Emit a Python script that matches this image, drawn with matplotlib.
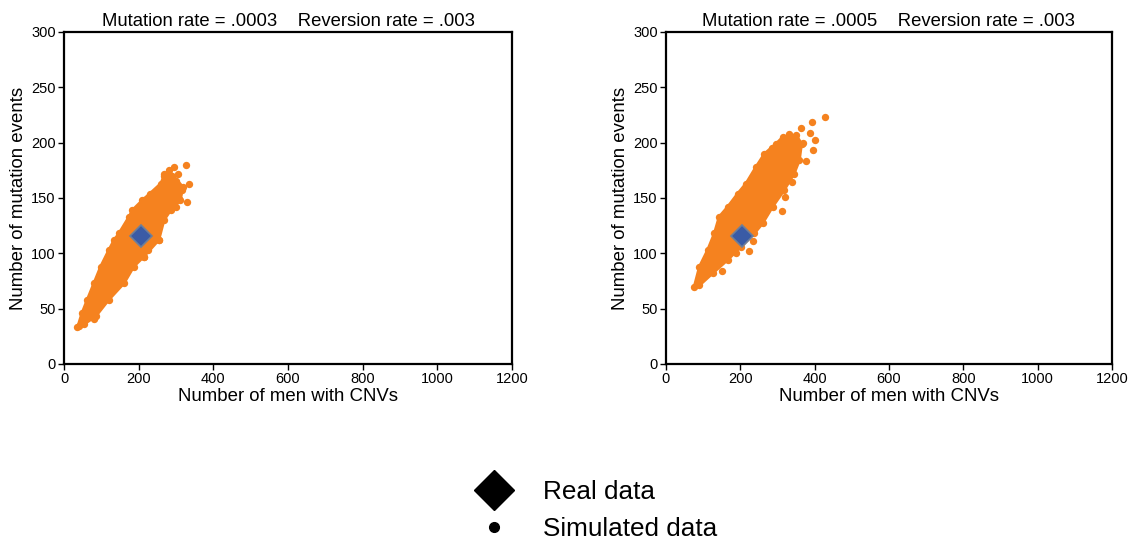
import matplotlib.pyplot as plt
from matplotlib.lines import Line2D

plt.rcParams['font.family'] = ['Liberation Sans', 'DejaVu Sans']

# real observation (same in both panels)
real_x = [205]
real_y = [116]

# panel titles
titles = ["Mutation rate = .0003    Reversion rate = .003",
          "Mutation rate = .0005    Reversion rate = .003"]

# simulated cloud, left panel: outline of the dense body
left_edge_x = [36, 48, 62, 80, 98, 120, 134, 147, 174, 183, 210, 230, 259, 268, 281,
               318, 312, 286, 268, 254, 214, 187, 161, 120, 85, 54]
left_edge_y = [33, 46, 58, 73, 88, 103, 112, 118, 133, 139, 148, 154, 163, 170, 175,
               160, 148, 139, 130, 112, 97, 88, 73, 58, 43, 36]
# stray points around the left cloud
left_out_x = [326, 335, 329, 308, 295, 268, 214, 254, 214, 80, 40, 299, 317, 288, 305, 300, 240, 225]
left_out_y = [180, 163, 146, 149, 178, 172, 148, 112, 97, 41, 34, 142, 157, 170, 172, 165, 120, 103]

# simulated cloud, right panel
right_edge_x = [76, 90, 112, 130, 143, 166, 193, 215, 242, 265, 296, 314, 350,
                365, 359, 345, 318, 287, 260, 238, 202, 166, 126, 90]
right_edge_y = [70, 88, 103, 118, 133, 142, 154, 163, 178, 190, 199, 205, 207,
                199, 184, 172, 157, 142, 127, 118, 106, 94, 82, 71]
right_out_x = [428, 392, 388, 401, 395, 377, 339, 312, 235, 224, 188, 363, 152, 340, 321, 370, 330, 285]
right_out_y = [223, 219, 209, 202, 193, 183, 164, 138, 111, 102, 100, 213, 84, 176, 151, 200, 208, 195]

orange = '#F5821F'

fig = plt.figure(figsize=(11.33, 5.47), dpi=100)
ax1 = fig.add_axes([0.0565, 0.3346, 0.3954, 0.607])
ax2 = fig.add_axes([0.5878, 0.3346, 0.3936, 0.607])

clouds = [(left_edge_x, left_edge_y, left_out_x, left_out_y),
          (right_edge_x, right_edge_y, right_out_x, right_out_y)]

for ax, title, (ex, ey, ox, oy) in zip([ax1, ax2], titles, clouds):
    ax.fill(ex, ey, color=orange, lw=2, zorder=2)
    ax.scatter(ex, ey, s=28, color=orange, lw=0, zorder=2)
    ax.scatter(ox, oy, s=28, color=orange, lw=0, zorder=2)
    ax.plot(real_x, real_y, 'D', ms=11, mfc='#3A5BA6', mec='#6E7F99', mew=1.2, zorder=3)

    ax.set_xlim(0, 1200)
    ax.set_ylim(0, 300)
    ax.set_xticks(range(0, 1201, 200))
    ax.set_yticks(range(0, 301, 50))
    ax.tick_params(labelsize=10.5, length=4, width=1, pad=2)
    for sp in ax.spines.values():
        sp.set_linewidth(1.6)
    ax.set_xlabel('Number of men with CNVs', fontsize=13.4, labelpad=1)
    ax.set_ylabel('Number of mutation events', fontsize=13.4, labelpad=3)
    ax.set_title(title, fontsize=13.3, pad=4)

handles = [Line2D([], [], ls='none', marker='D', ms=20, color='black'),
           Line2D([], [], ls='none', marker='o', ms=7, color='black')]
fig.legend(handles, ['Real data', 'Simulated data'], loc='center',
           bbox_to_anchor=(0.523, 0.066), frameon=False, fontsize=18.8,
           handletextpad=0.9, labelspacing=0.5)

fig.savefig('out.png', dpi=100)
